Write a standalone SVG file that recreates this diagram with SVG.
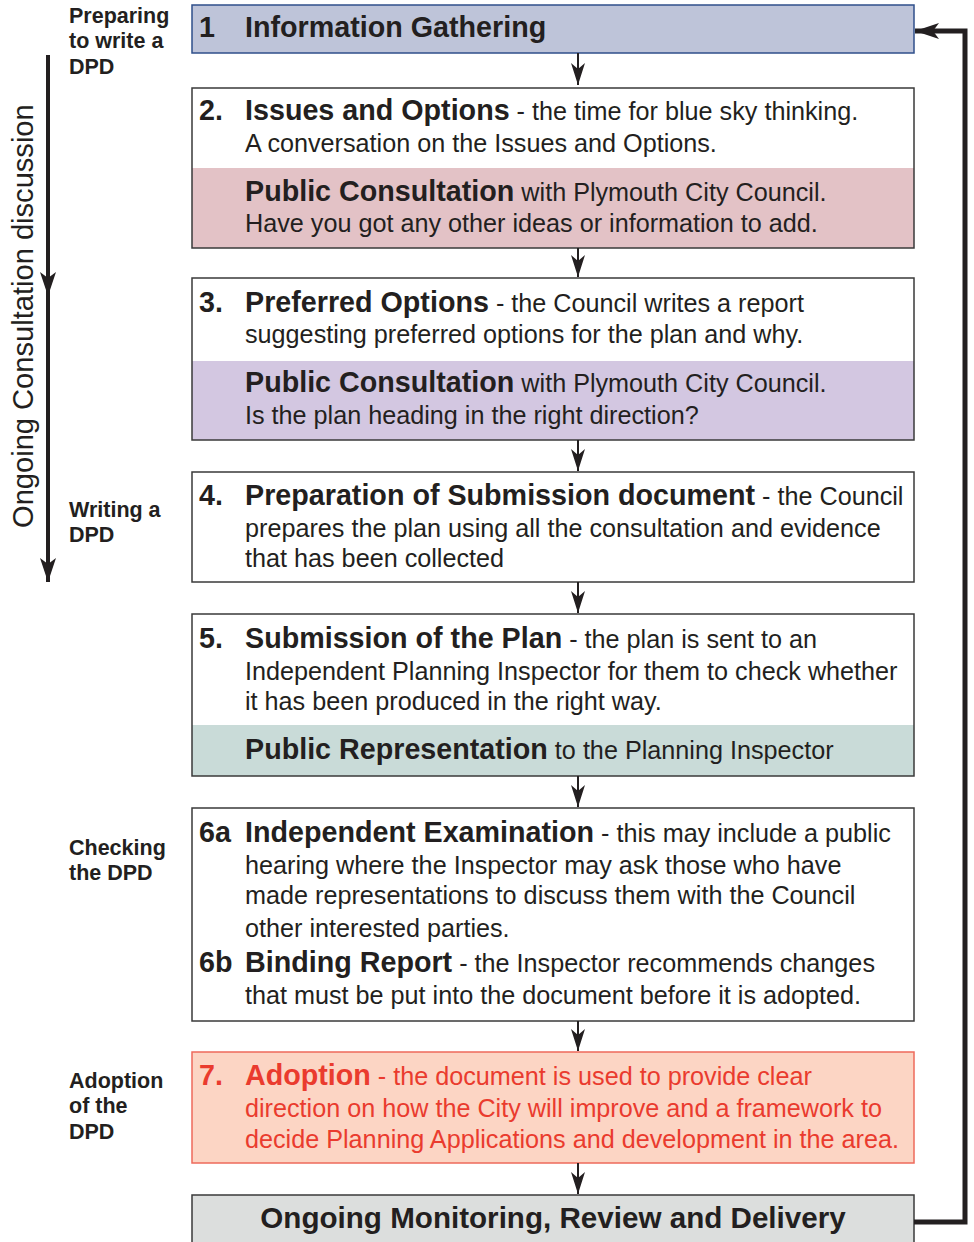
<svg xmlns="http://www.w3.org/2000/svg" width="974" height="1242" viewBox="0 0 974 1242">
<style>
text{font-family:"Liberation Sans",Arial,Helvetica,sans-serif;fill:#231f20}
.t{font-size:25.2px}
.b{font-size:28.7px;font-weight:bold}
.lab{font-size:21.5px;font-weight:bold}
.box{stroke:#3a3a3a;stroke-width:1.5}
.red{fill:#ea3b2e}
.conn{stroke:#231f20;stroke-width:2;fill:none}
</style>
<defs>
<marker id="ah" markerUnits="userSpaceOnUse" markerWidth="30" markerHeight="30" refX="22" refY="7" orient="auto">
<path d="M22,7 L0,0 L6,7 L0,14 Z" fill="#231f20"/>
</marker>
<marker id="ahL" markerUnits="userSpaceOnUse" markerWidth="30" markerHeight="30" refX="24" refY="8" orient="auto">
<path d="M24,8 L0,0 L6,8 L0,16 Z" fill="#231f20"/>
</marker>
</defs>

<g id="side-labels">
<text class="lab" x="69" y="23">Preparing</text>
<text class="lab" x="69" y="48">to write a</text>
<text class="lab" x="69" y="74">DPD</text>
<text class="lab" x="69" y="517">Writing a</text>
<text class="lab" x="69" y="542">DPD</text>
<text class="lab" x="69" y="855">Checking</text>
<text class="lab" x="69" y="880">the DPD</text>
<text class="lab" x="69" y="1088">Adoption</text>
<text class="lab" x="69" y="1113">of the</text>
<text class="lab" x="69" y="1139">DPD</text>
<text x="33" y="528" font-size="29.1" transform="rotate(-90 33 528)">Ongoing Consultation discussion</text>
</g>

<g id="n1">
<rect x="192" y="5" width="722" height="48" fill="#bec4d9" stroke="#2f4f8a" stroke-width="1.5"/>
<text class="b" x="199" y="37">1</text>
<text class="b" x="245" y="37">Information Gathering</text>
</g>

<g id="n2">
<rect x="192" y="168" width="722" height="80" fill="#e3c2c6"/>
<rect class="box" x="192" y="88" width="722" height="160" fill="none"/>
<text class="b" x="199" y="120">2.</text>
<text class="t" x="245" y="120"><tspan class="b">Issues and Options</tspan> - the time for blue sky thinking.</text>
<text class="t" x="245" y="152">A conversation on the Issues and Options.</text>
<text class="t" x="245" y="201"><tspan class="b">Public Consultation</tspan> with Plymouth City Council.</text>
<text class="t" x="245" y="232">Have you got any other ideas or information to add.</text>
</g>

<g id="n3">
<rect x="192" y="361" width="722" height="79" fill="#d3c7e1"/>
<rect class="box" x="192" y="278" width="722" height="162" fill="none"/>
<text class="b" x="199" y="312">3.</text>
<text class="t" x="245" y="312"><tspan class="b">Preferred Options</tspan> - the Council writes a report</text>
<text class="t" x="245" y="343">suggesting preferred options for the plan and why.</text>
<text class="t" x="245" y="392"><tspan class="b">Public Consultation</tspan> with Plymouth City Council.</text>
<text class="t" x="245" y="424">Is the plan heading in the right direction?</text>
</g>

<g id="n4">
<rect class="box" x="192" y="472" width="722" height="110" fill="#fff"/>
<text class="b" x="199" y="505">4.</text>
<text class="t" x="245" y="505"><tspan class="b">Preparation of Submission document</tspan> - the Council</text>
<text class="t" x="245" y="537">prepares the plan using all the consultation and evidence</text>
<text class="t" x="245" y="567">that has been collected</text>
</g>

<g id="n5">
<rect x="192" y="725" width="722" height="51" fill="#c9dbd8"/>
<rect class="box" x="192" y="614" width="722" height="162" fill="none"/>
<text class="b" x="199" y="648">5.</text>
<text class="t" x="245" y="648"><tspan class="b">Submission of the Plan</tspan> - the plan is sent to an</text>
<text class="t" x="245" y="680">Independent Planning Inspector for them to check whether</text>
<text class="t" x="245" y="710">it has been produced in the right way.</text>
<text class="t" x="245" y="759"><tspan class="b">Public Representation</tspan> to the Planning Inspector</text>
</g>

<g id="n6">
<rect class="box" x="192" y="808" width="722" height="213" fill="#fff"/>
<text class="b" x="199" y="842">6a</text>
<text class="t" x="245" y="842"><tspan class="b">Independent Examination</tspan> - this may include a public</text>
<text class="t" x="245" y="874">hearing where the Inspector may ask those who have</text>
<text class="t" x="245" y="904">made representations to discuss them with the Council</text>
<text class="t" x="245" y="937">other interested parties.</text>
<text class="b" x="199" y="972">6b</text>
<text class="t" x="245" y="972"><tspan class="b">Binding Report</tspan> - the Inspector recommends changes</text>
<text class="t" x="245" y="1004">that must be put into the document before it is adopted.</text>
</g>

<g id="n7">
<rect x="192" y="1052" width="722" height="111" fill="#fcd5c4" stroke="#ee6a5b" stroke-width="1.5"/>
<text class="b red" x="199" y="1085">7.</text>
<text class="t red" x="245" y="1085"><tspan class="b red">Adoption</tspan> - the document is used to provide clear</text>
<text class="t red" x="245" y="1117">direction on how the City will improve and a framework to</text>
<text class="t red" x="245" y="1148">decide Planning Applications and development in the area.</text>
</g>

<g id="n8">
<rect class="box" x="192" y="1195" width="722" height="60" fill="#dcdedd"/>
<text class="b" x="553" y="1228" style="font-size:29.6px" text-anchor="middle">Ongoing Monitoring, Review and Delivery</text>
</g>

<g id="connectors">
<line class="conn" x1="578" y1="53" x2="578" y2="85" marker-end="url(#ah)"/>
<line class="conn" x1="578" y1="248" x2="578" y2="277" marker-end="url(#ah)"/>
<line class="conn" x1="578" y1="440" x2="578" y2="471" marker-end="url(#ah)"/>
<line class="conn" x1="578" y1="582" x2="578" y2="613" marker-end="url(#ah)"/>
<line class="conn" x1="578" y1="776" x2="578" y2="807" marker-end="url(#ah)"/>
<line class="conn" x1="578" y1="1021" x2="578" y2="1051" marker-end="url(#ah)"/>
<line class="conn" x1="578" y1="1163" x2="578" y2="1194" marker-end="url(#ah)"/>
<polyline points="914,1222 965,1222 965,31 915,31" fill="none" stroke="#231f20" stroke-width="5" marker-end="url(#ahL)"/>
<line x1="48" y1="55" x2="48" y2="296" stroke="#231f20" stroke-width="4" marker-end="url(#ahL)"/>
<line x1="48" y1="290" x2="48" y2="582" stroke="#231f20" stroke-width="4" marker-end="url(#ahL)"/>
</g>
</svg>
